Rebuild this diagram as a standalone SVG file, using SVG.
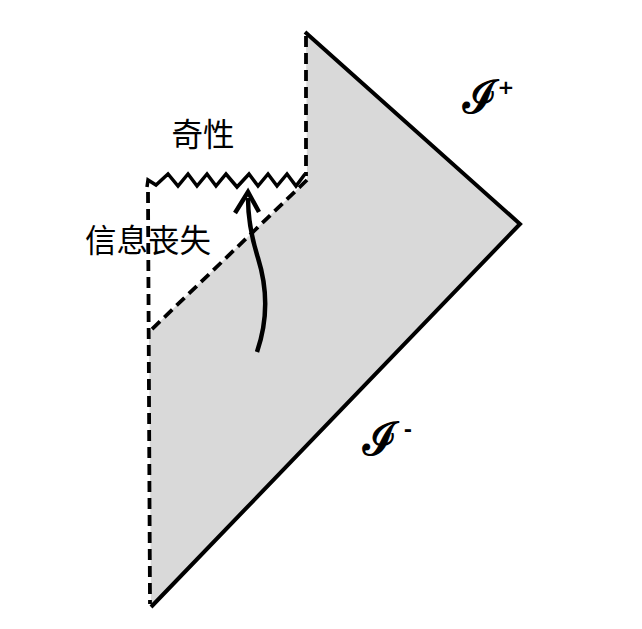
<svg xmlns="http://www.w3.org/2000/svg" width="642" height="629" viewBox="0 0 642 629">
<style>
.solid{fill:none;stroke:#000;stroke-width:4;stroke-linejoin:miter;stroke-linecap:butt}
.dash{fill:none;stroke:#000;stroke-width:3.8;stroke-dasharray:11 6}
.cjk{font-family:"Noto Sans CJK SC","Noto Sans",sans-serif;font-size:31.5px;fill:#000}
.scr{font-family:"DejaVu Serif","Liberation Serif",serif;fill:#000;stroke:#000;stroke-width:1.3;font-size:46px}
.sup{font-family:"DejaVu Sans","Liberation Sans",sans-serif;font-weight:bold;font-size:20px;fill:#000}
</style>
<rect width="642" height="629" fill="#fff"/>
<g id="region">
<polygon points="306,33 520,224 151,607 149,332 307,180" fill="#d9d9d9"/>
</g>
<g id="connectors">
<polyline class="solid" points="305,32 520,224 151,607"/>
<line class="dash" x1="306" y1="36" x2="306" y2="176"/>
<line class="dash" x1="307" y1="180" x2="149" y2="332"/>
<line class="dash" x1="148" y1="192" x2="150" y2="604"/>
<polyline id="singularity" fill="none" stroke="#000" stroke-width="3.5" stroke-linejoin="miter" points="147,187 148,180 156,185 168,174 178,186 188,174 197,186 207,174 216,186 226,174 237,187 249,174 258,186 268,174 277,186 287,174 296,186 305,174"/>
<path d="M257,352 C268,320 268,290 258,258 C251,236 248,220 248,198" fill="none" stroke="#000" stroke-width="4.5"/>
<polyline points="235,213 248,192 259,212" fill="none" stroke="#000" stroke-width="4.5" stroke-linejoin="miter"/>
</g>
<g id="label-singularity"><text class="cjk" x="203" y="146" text-anchor="middle">奇性</text></g>
<g id="label-info-loss"><text class="cjk" x="85" y="252">信息丧失</text></g>
<g id="label-scri-plus"><text class="scr" x="463" y="113">ℐ</text><text class="sup" x="506" y="94" text-anchor="middle">+</text></g>
<g id="label-scri-minus"><text class="scr" x="363" y="455">ℐ</text><text class="sup" x="408" y="436" text-anchor="middle">-</text></g>
</svg>
